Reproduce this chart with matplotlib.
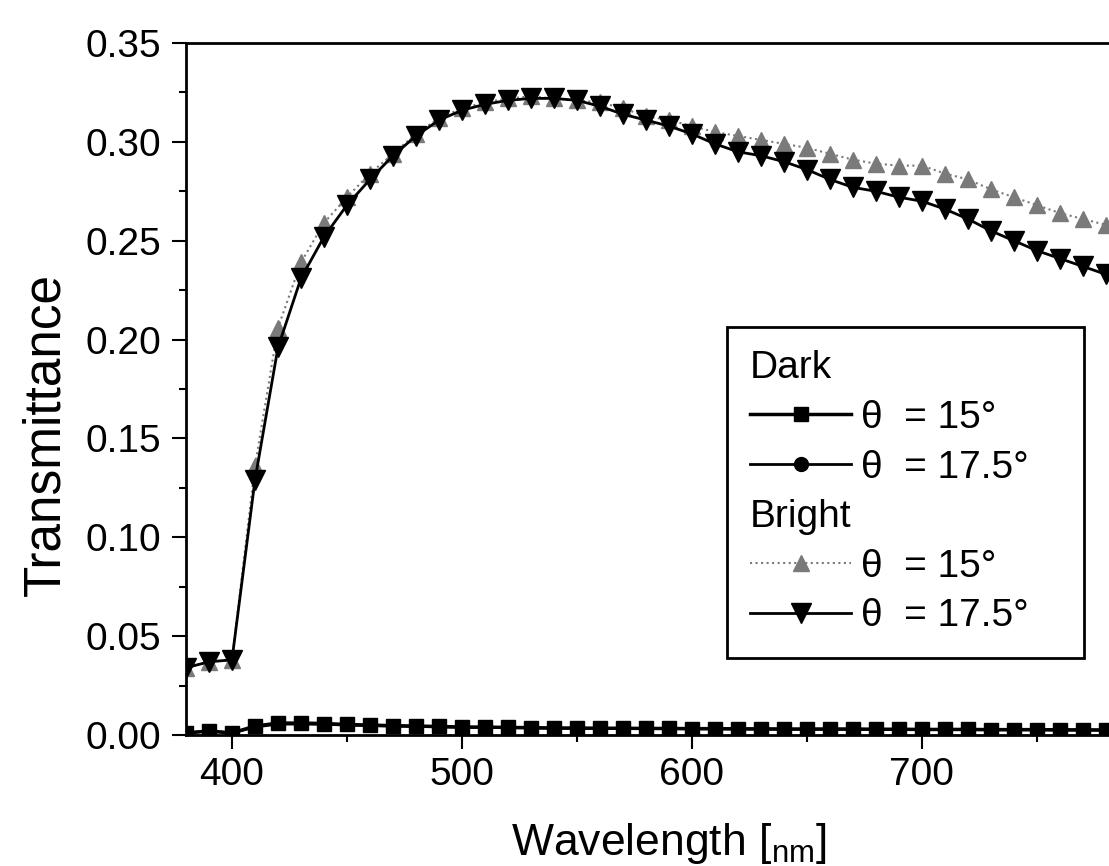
#Transmittance of dark and bright states against wavelength.

import matplotlib
import matplotlib.pyplot as plt
from matplotlib.lines import Line2D
from matplotlib.ticker import MultipleLocator, FuncFormatter

#Font close to Arial.
matplotlib.rc('font', family=['Liberation Sans', 'DejaVu Sans'], size=28)

#Wavelength in nm.
wl = [380, 390, 400, 410, 420, 430, 440, 450, 460, 470,
      480, 490, 500, 510, 520, 530, 540, 550, 560, 570,
      580, 590, 600, 610, 620, 630, 640, 650, 660, 670,
      680, 690, 700, 710, 720, 730, 740, 750, 760, 770, 780]

#Dark state, theta = 15 deg.
dark_15 = [0.001, 0.002, 0.001, 0.0045, 0.006, 0.006, 0.0058, 0.0053, 0.005, 0.0047,
           0.0045, 0.0043, 0.004, 0.004, 0.0038, 0.0037, 0.0035, 0.0035, 0.0034, 0.0034,
           0.0033, 0.0033, 0.0032, 0.0032, 0.0031, 0.0031, 0.003, 0.003, 0.003, 0.003,
           0.0029, 0.0029, 0.0028, 0.0028, 0.0028, 0.0027, 0.0027, 0.0027, 0.0026, 0.0026, 0.0025]

#Dark state, theta = 17.5 deg (hidden behind the squares).
dark_175 = [0.001, 0.002, 0.001, 0.004, 0.0055, 0.0055, 0.0054, 0.005, 0.0047, 0.0045,
            0.0043, 0.0041, 0.0039, 0.0038, 0.0037, 0.0036, 0.0034, 0.0034, 0.0033, 0.0033,
            0.0032, 0.0032, 0.0031, 0.0031, 0.003, 0.003, 0.0029, 0.0029, 0.0029, 0.0029,
            0.0028, 0.0028, 0.0027, 0.0027, 0.0027, 0.0026, 0.0026, 0.0026, 0.0025, 0.0025, 0.0024]

#Bright state, theta = 15 deg.
bright_15 = [0.034, 0.037, 0.038, 0.136, 0.206, 0.239, 0.259, 0.272, 0.284, 0.294,
             0.304, 0.312, 0.317, 0.320, 0.322, 0.323, 0.322, 0.321, 0.320, 0.317,
             0.313, 0.311, 0.308, 0.305, 0.303, 0.301, 0.299, 0.297, 0.294, 0.291,
             0.289, 0.288, 0.288, 0.284, 0.281, 0.276, 0.272, 0.268, 0.264, 0.261, 0.258]

#Bright state, theta = 17.5 deg.
bright_175 = [0.034, 0.037, 0.038, 0.129, 0.196, 0.231, 0.252, 0.268, 0.281, 0.293,
              0.303, 0.311, 0.316, 0.319, 0.321, 0.322, 0.322, 0.321, 0.318, 0.314,
              0.311, 0.308, 0.304, 0.299, 0.295, 0.293, 0.290, 0.286, 0.281, 0.277,
              0.275, 0.272, 0.270, 0.266, 0.261, 0.255, 0.250, 0.245, 0.241, 0.237, 0.233]

gray = '#7a7a7a'

fig = plt.figure(figsize=(11.09, 8.66), dpi=100)
#Axes run past the right edge, as in the cropped original.
ax = fig.add_axes([0.1677, 0.1513, 0.871, 0.799])

#Dark state curves.
ax.plot(wl, dark_175, '-o', color='black', lw=2, ms=7, zorder=2)
ax.plot(wl, dark_15, '-s', color='black', lw=2.5, ms=10, zorder=3)
#Bright state curves.
ax.plot(wl, bright_15, ':^', color=gray, lw=1.5, ms=12, zorder=4)
ax.plot(wl, bright_175, '-v', color='black', lw=2, ms=14, zorder=5)

ax.set_xlim(380, 800)
ax.set_ylim(0, 0.35)
ax.xaxis.set_major_locator(MultipleLocator(100))
ax.xaxis.set_minor_locator(MultipleLocator(50))
#The 800 label falls outside the cropped picture.
ax.xaxis.set_major_formatter(FuncFormatter(lambda v, p: '%d' % v if v < 790 else ''))
ax.yaxis.set_major_locator(MultipleLocator(0.05))
ax.yaxis.set_minor_locator(MultipleLocator(0.025))
ax.yaxis.set_major_formatter(matplotlib.ticker.FormatStrFormatter('%.2f'))
ax.tick_params(which='major', direction='out', length=10, width=1.5, pad=6)
ax.tick_params(which='minor', direction='out', length=5, width=1.5)
ax.tick_params(axis='y', which='major', pad=8)
for s in ax.spines.values():
    s.set_linewidth(2)

#Labeling the axes.
ax.set_xlabel(r'Wavelength [$\mathregular{_{nm}}$]', fontsize=32, labelpad=20)
ax.set_ylabel('Transmittance', fontsize=37)
ax.yaxis.set_label_coords(-0.12, 0.434)

#Legend with Dark/Bright group headers.
blank = Line2D([], [], linestyle='none')
handles = [blank,
           Line2D([], [], color='black', lw=2.5, marker='s', ms=10),
           Line2D([], [], color='black', lw=2, marker='o', ms=10),
           blank,
           Line2D([], [], color=gray, lw=1.5, ls=':', marker='^', ms=12),
           Line2D([], [], color='black', lw=2, marker='v', ms=14)]
labels = ['Dark', '\u03b8  = 15\u00b0', '\u03b8  = 17.5\u00b0   ',
          'Bright', '\u03b8  = 15\u00b0', '\u03b8  = 17.5\u00b0   ']
leg = ax.legend(handles, labels, loc='upper left', bbox_to_anchor=(0.560, 0.5896),
                fontsize=28, handlelength=2.6, handletextpad=0.25, labelspacing=0.35,
                borderpad=0.6, borderaxespad=0, fancybox=False, framealpha=1,
                edgecolor='black')
leg.get_frame().set_linewidth(2)
#Move the headers left so they start where the handle lines start.
shift = (2.6 + 0.25) * 28 * 100 / 72
for i in (0, 3):
    leg.get_texts()[i].set_position((-shift, 0))

#Figure saved.
fig.savefig('out.png', dpi=100)
